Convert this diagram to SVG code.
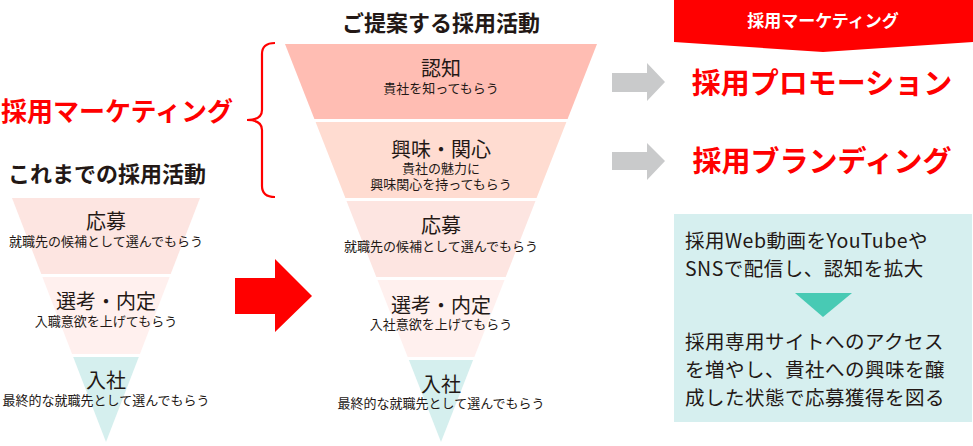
<svg xmlns="http://www.w3.org/2000/svg" width="973" height="446" viewBox="0 0 973 446">
<style>
text{font-family:"Noto Sans CJK JP","Noto Sans",sans-serif;fill:#231815}
.t{font-size:20px;text-anchor:middle}
.s{font-size:13px;text-anchor:middle}
.h{font-size:22px;font-weight:bold}
.red{fill:#ff0000;font-weight:bold}
.box{font-size:19.5px;letter-spacing:0.5px}
.l1{fill:#ffbdb3}.l2{fill:#ffdcd1}.l3{fill:#fde5e1}.l4{fill:#fff0ee}.l5{fill:#d5efee}
</style>
<rect width="973" height="446" fill="#fff"/>
<text class="h" x="441" y="31" text-anchor="middle">ご提案する採用活動</text>
<text class="h" x="8" y="182">これまでの採用活動</text>
<text class="red" x="1" y="121" font-size="26">採用マーケティング</text>
<g id="bracket"><path d="M275,43 Q262,43 262,54 L262,110 Q262,120 247,120 Q262,120 262,130 L262,186 Q262,197 275,197" fill="none" stroke="#ff0000" stroke-width="2.2"/></g>

<g id="left-funnel">
<g id="left-oubo"><polygon class="l3" points="12,198 200,198 170.7,274 41.3,274"/><text class="t" x="106" y="229">応募</text><text class="s" x="106" y="246">就職先の候補として選んでもらう</text></g>
<g id="left-senkou"><polygon class="l4" points="42.4,277 169.6,277 139.9,354 72.1,354"/><text class="t" x="106" y="309">選考・内定</text><text class="s" x="106" y="326">入職意欲を上げてもらう</text></g>
<g id="left-nyusha"><polygon class="l5" points="73.2,357 138.8,357 106,442"/><text class="t" x="106" y="388">入社</text><text class="s" x="106" y="405">最終的な就職先として選んでもらう</text></g>
</g>

<g id="mid-funnel">
<g id="mid-ninchi"><polygon class="l1" points="285,44 597,44 567.6,119 314.4,119"/><text class="t" x="441" y="76">認知</text><text class="s" x="441" y="93">貴社を知ってもらう</text></g>
<g id="mid-kyoumi"><polygon class="l2" points="315.6,122 566.4,122 536.6,198 345.4,198"/><text class="t" x="441" y="157">興味・関心</text><text class="s" x="441" y="173">貴社の魅力に</text><text class="s" x="441" y="189">興味関心を持ってもらう</text></g>
<g id="mid-oubo"><polygon class="l3" points="346.5,201 535.5,201 505.7,277 376.3,277"/><text class="t" x="441" y="233">応募</text><text class="s" x="441" y="251">就職先の候補として選んでもらう</text></g>
<g id="mid-senkou"><polygon class="l4" points="377.5,280 504.5,280 474.3,357 407.7,357"/><text class="t" x="441" y="313">選考・内定</text><text class="s" x="441" y="329">入社意欲を上げてもらう</text></g>
<g id="mid-nyusha"><polygon class="l5" points="408.9,360 473.1,360 441,442"/><text class="t" x="441" y="392">入社</text><text class="s" x="441" y="408">最終的な就職先として選んでもらう</text></g>
</g>

<g id="connectors">
<polygon fill="#ff0000" points="235,278 275,278 275,259 312,296 275,332 275,314 235,314"/>
<polygon fill="#c9cacb" points="612,73 647,73 647,63 665,82 647,101 647,92 612,92"/>
<polygon fill="#c9cacb" points="612,152 647,152 647,143 665,161 647,180 647,170 612,170"/>
</g>

<g id="banner">
<polygon fill="#ff0000" points="674,0 973,0 973,42 823,52 674,42"/>
<text x="823" y="27" font-size="17" font-weight="bold" text-anchor="middle" style="fill:#fff">採用マーケティング</text>
</g>
<g id="promotion"><text class="red" x="822" y="94" font-size="29" text-anchor="middle">採用プロモーション</text></g>
<g id="branding"><text class="red" x="822" y="172" font-size="29" text-anchor="middle">採用ブランディング</text></g>

<g id="info-box">
<rect x="674" y="214" width="298" height="208" fill="#d6efef"/>
<text class="box" x="685" y="248">採用Web動画をYouTubeや</text>
<text class="box" x="685" y="276">SNSで配信し、認知を拡大</text>
<polygon fill="#48cab4" points="795,293 852,293 823,317"/>
<text class="box" x="685" y="349">採用専用サイトへのアクセス</text>
<text class="box" x="685" y="377">を増やし、貴社への興味を醸</text>
<text class="box" x="685" y="405">成した状態で応募獲得を図る</text>
</g>
</svg>
